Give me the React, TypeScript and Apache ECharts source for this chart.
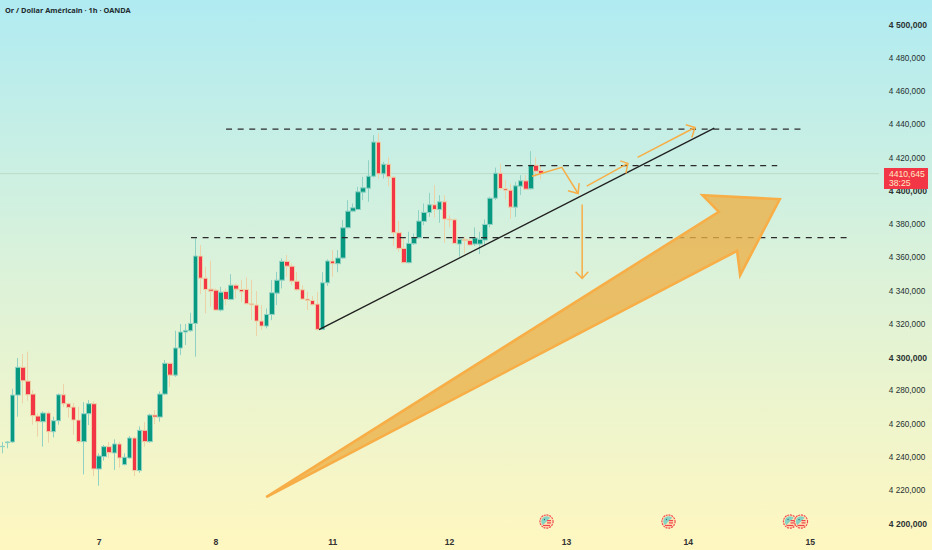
import React, { useEffect, useRef } from "react";
import * as echarts from "echarts";

const titleText = "Or / Dollar Américain · 1h · OANDA";
const lastPriceText = "4410,645";
const countdownText = "38:25";
const lastPrice = 4410.645;

const opens = [4246.5,4248.9,4249.3,4277.5,4294.2,4285.9,4278.1,4264.9,4261.5,4266.7,4255.5,4262.1,4277.7,4272.3,4270.3,4262.5,4249.5,4266.3,4272.3,4233.1,4240.5,4246.5,4242.7,4248.1,4235.7,4239.7,4251.7,4232.1,4256.3,4249.5,4265.5,4264.3,4278.1,4296.6,4289.5,4305.8,4315.4,4316.2,4320.6,4361.1,4347.8,4341.2,4340.6,4328.6,4339.8,4335.0,4343.6,4341.0,4341.0,4332.4,4331.6,4322.0,4319.0,4326.0,4338.8,4346.6,4357.9,4355.0,4346.0,4340.8,4335.2,4334.4,4332.2,4317.0,4345.0,4358.1,4356.5,4359.9,4378.1,4388.1,4389.1,4399.5,4401.9,4409.1,4429.6,4410.5,4416.3,4408.5,4375.1,4365.7,4357.1,4368.5,4372.1,4381.9,4387.3,4391.9,4389.1,4393.7,4383.3,4382.9,4368.3,4371.1,4370.5,4368.3,4368.3,4370.7,4380.1,4395.9,4410.9,4401.7,4400.7,4390.5,4403.1,4406.3,4401.5,4415.7,4412.5];
const closes = [4246.7,4249.3,4277.5,4294.2,4286.1,4277.7,4265.1,4261.5,4266.7,4255.5,4262.1,4277.7,4272.3,4270.1,4262.5,4249.5,4266.3,4272.3,4233.1,4240.9,4246.5,4242.9,4248.1,4239.7,4240.1,4251.7,4232.1,4256.3,4249.5,4265.5,4264.3,4278.1,4296.6,4289.5,4305.8,4315.4,4316.4,4320.6,4361.1,4347.8,4341.0,4340.0,4328.6,4339.4,4335.0,4343.6,4341.2,4339.6,4332.4,4331.8,4322.0,4319.0,4326.0,4339.0,4346.6,4357.9,4355.0,4346.0,4340.8,4335.2,4334.4,4331.8,4317.0,4345.0,4358.1,4356.5,4359.9,4378.1,4388.1,4390.1,4399.7,4402.1,4409.1,4429.6,4410.5,4416.3,4408.7,4375.1,4365.7,4357.1,4368.7,4372.1,4382.1,4387.3,4391.9,4389.1,4393.7,4383.3,4382.9,4368.7,4371.1,4370.5,4367.7,4371.9,4371.1,4380.1,4395.9,4410.9,4401.7,4400.7,4390.5,4403.3,4406.3,4401.3,4415.7,4412.1,4410.645];
const lows = [4242.5,4245.5,4248.9,4264.5,4272.5,4274.1,4259.7,4252.5,4246.5,4248.9,4252.1,4259.7,4270.5,4263.9,4253.7,4248.5,4229.8,4259.5,4228.8,4223.0,4238.1,4239.7,4232.5,4233.9,4235.3,4239.3,4228.8,4230.8,4246.5,4248.9,4260.1,4261.5,4277.5,4282.3,4288.5,4301.6,4307.6,4315.6,4300.6,4338.2,4326.6,4330.6,4328.2,4327.8,4331.6,4334.6,4335.6,4333.6,4332.2,4322.6,4313.0,4316.6,4317.6,4322.6,4331.6,4341.6,4348.6,4343.6,4340.2,4334.6,4328.6,4331.4,4316.2,4316.6,4343.2,4348.6,4351.4,4359.5,4377.7,4387.5,4388.7,4394.7,4393.7,4408.3,4407.7,4407.7,4403.1,4367.1,4363.7,4356.7,4356.7,4367.7,4371.7,4379.7,4384.7,4384.3,4381.1,4369.1,4378.3,4368.3,4360.7,4362.7,4367.1,4367.1,4362.3,4367.1,4378.3,4394.7,4400.7,4395.1,4383.7,4384.7,4397.7,4401.1,4401.1,4408.7,4407.3];
const highs = [4249.3,4249.7,4281.3,4299.8,4302.2,4303.6,4280.5,4266.5,4267.7,4267.7,4264.5,4278.5,4284.1,4272.9,4272.9,4270.5,4273.3,4274.5,4273.7,4242.5,4247.5,4249.3,4250.9,4249.5,4242.5,4252.9,4252.5,4258.7,4261.3,4266.3,4268.5,4279.7,4298.6,4297.2,4316.2,4320.2,4320.2,4327.0,4371.7,4367.7,4354.6,4358.3,4341.6,4342.6,4341.6,4350.2,4344.6,4346.6,4348.2,4346.6,4340.0,4331.6,4329.6,4346.6,4351.6,4359.7,4361.7,4356.7,4351.6,4343.6,4339.6,4337.0,4339.6,4351.4,4359.1,4364.7,4364.7,4382.7,4394.7,4392.7,4402.7,4408.7,4418.7,4433.8,4434.8,4417.7,4420.4,4409.1,4382.1,4371.7,4375.7,4374.7,4388.7,4392.7,4399.1,4403.7,4397.7,4397.7,4385.7,4383.7,4372.3,4372.7,4371.7,4378.3,4375.7,4383.1,4396.7,4414.3,4416.7,4406.7,4404.7,4405.7,4409.7,4409.7,4424.2,4420.4,4415.7];

const barCount = 173;
const dayNames = ["7", "8", "11", "12", "13", "14", "15"];
const dayBars = [19, 42, 65, 88, 111, 135, 159];

const yMin = 4200;
const yMax = 4500;
const yStep = 20;

// Annotations: [bar position, price]
const topLevel = [[44.0, 4437.4], [157.6, 4437.4]];
const midLevel = [[98.9, 4415.4], [152.5, 4415.4]];
const lowLevel = [[37.1, 4372.2], [166.4, 4372.2]];
const trendLine = [[62.3, 4316.9], [140.1, 4438.0]];
const priceLine = [[-0.5, lastPrice], [172.5, lastPrice]];

const arrowA = [[104.2, 4409.1], [110.1, 4414.4], [113.3, 4398.7]];
const arrowAHead = [[111.3, 4400.3], [113.3, 4398.7], [113.5, 4404.9]];
const arrowB = [[115.0, 4403.1], [123.1, 4416.8]];
const arrowBHead = [[121.6, 4418.3], [123.1, 4416.8], [122.7, 4410.8]];
const arrowC = [[125.0, 4420.4], [136.3, 4438.4]];
const arrowCHead = [[134.5, 4440.0], [136.3, 4438.4], [135.7, 4432.4]];
const arrowD = [[114.1, 4392.1], [114.1, 4347.7]];
const arrowDHead = [[112.8, 4351.6], [114.1, 4347.7], [115.3, 4351.6]];
const thinArrows = [arrowA, arrowAHead, arrowB, arrowBHead, arrowC, arrowCHead, arrowD, arrowDHead];

const bigArrow = [[51.9, 4216.2], [141.0, 4387.7], [137.8, 4397.7], [153.0, 4395.3], [145.2, 4349.6], [144.6, 4364.2]];

const eventIconX = [546.5, 668.5, 790, 801];

function eventIcon(x: number) {
  return {
    type: "group",
    x,
    y: 521.5,
    z: 50,
    children: [
      { type: "circle", shape: { cx: 0, cy: 0, r: 6.6 }, style: { fill: "#fde3b0", stroke: "#f0444e", lineWidth: 1.1, lineDash: [2, 0.8] } },
      { type: "sector", shape: { cx: 0, cy: 0, r: 5.2, r0: 0, startAngle: Math.PI * 0.75, endAngle: Math.PI * 1.75 }, style: { fill: "#86d2c4" } },
      { type: "rect", shape: { x: 0.5, y: -1.5, width: 4, height: 1.2 }, style: { fill: "#f0444e" } },
      { type: "rect", shape: { x: 0.5, y: 0.8, width: 4, height: 1.2 }, style: { fill: "#f0444e" } },
      { type: "rect", shape: { x: -3.5, y: 3.4, width: 7, height: 1.2 }, style: { fill: "#f0444e" } },
      { type: "circle", shape: { cx: -2, cy: -2, r: 0.6 }, style: { fill: "#2a6f6a" } },
    ],
  };
}

function polySeries(points: number[][], shapeType: string, style: any, z: number) {
  return {
    type: "custom",
    xAxisIndex: 1,
    yAxisIndex: 0,
    z,
    silent: true,
    clip: false,
    encode: { x: 0, y: 1 },
    data: [points[0]],
    renderItem: (_p: any, api: any) => ({
      type: shapeType,
      shape: { points: points.map((pt) => api.coord(pt)) },
      style,
    }),
  };
}

function lineSeries(points: number[][], color: string, width: number, dash: any, z: number) {
  return {
    type: "line",
    xAxisIndex: 1,
    yAxisIndex: 0,
    z,
    silent: true,
    symbol: "none",
    data: points,
    lineStyle: { color, width, type: dash },
  };
}

export default function App() {
  const ref = useRef<HTMLDivElement>(null);
  useEffect(() => {
    document.body.style.margin = "0";
    const chart = echarts.init(ref.current!, undefined, { renderer: "svg" });
    const categories = Array.from({ length: barCount }, (_, i) => {
      const k = dayBars.indexOf(i);
      return k >= 0 ? dayNames[k] : `b${i}`;
    });
    const candleData = opens.map((o, i) => [o, closes[i], lows[i], highs[i]]);
    chart.setOption({
      animation: false,
      backgroundColor: new echarts.graphic.LinearGradient(0, 0, 0, 1, [
        { offset: 0, color: "#b0ebf2" },
        { offset: 0.5, color: "#dcf2d9" },
        { offset: 1, color: "#fff7c0" },
      ]),
      title: {
        text: titleText,
        left: 0,
        top: 6,
        padding: [0, 0, 0, 5],
        textStyle: { fontFamily: "Noto Sans", fontSize: 7.4, fontWeight: 700, color: "#1f2d30" },
      },
      grid: { left: 0, top: 25, width: barCount * 5.08, height: 499, containLabel: false, outerBoundsMode: "none" },
      xAxis: [
        {
          type: "category",
          data: categories,
          boundaryGap: true,
          axisLine: { show: false },
          axisTick: { show: false },
          splitLine: { show: false },
          axisLabel: {
            interval: (i: number) => dayBars.includes(i),
            formatter: (v: string) => v,
            margin: 13,
            fontFamily: "Liberation Sans",
            fontSize: 8.6,
            fontWeight: 700,
            color: "#333333",
          },
        },
        { type: "value", min: -0.5, max: barCount - 0.5, show: false, splitLine: { show: false } },
      ],
      yAxis: {
        type: "value",
        position: "right",
        min: yMin,
        max: yMax,
        interval: yStep,
        axisLine: { show: false },
        axisTick: { show: false },
        splitLine: { show: false },
        axisLabel: {
          margin: 10,
          formatter: (v: number) => {
            const t = `${Math.floor(v / 1000)} ${String(v % 1000).padStart(3, "0")},000`;
            return v % 100 === 0 ? `{b|${t}}` : `{n|${t}}`;
          },
          rich: {
            b: { fontFamily: "Liberation Sans", fontSize: 8.6, fontWeight: 700, color: "#2c3333" },
            n: { fontFamily: "Liberation Sans", fontSize: 8.2, fontWeight: 400, color: "#263030" },
          },
        },
      },
      series: [
        lineSeries(priceLine, "#bcdcc8", 1, "solid", 1),
        {
          type: "candlestick",
          xAxisIndex: 0,
          yAxisIndex: 0,
          z: 2,
          barWidth: 5,
          data: candleData,
          itemStyle: {
            color: "#089981",
            color0: "#f23645",
            borderColor: "#8fd2c4",
            borderColor0: "#ecd2a6",
            borderWidth: 1,
          },
        },
        lineSeries(topLevel, "#2b2b2b", 1.2, [6, 5.6], 3),
        lineSeries(midLevel, "#2b2b2b", 1.2, [6, 5.6], 3),
        lineSeries(lowLevel, "#2b2b2b", 1.2, [6, 5.6], 3),
        lineSeries(trendLine, "#1f1f1f", 1.3, "solid", 3),
        polySeries(bigArrow, "polygon", { fill: "rgba(236,176,70,0.78)", stroke: "#f7ae47", lineWidth: 2.6, lineJoin: "miter" }, 4),
        ...thinArrows.map((a) => polySeries(a, "polyline", { fill: "none", stroke: "#f7ae47", lineWidth: 1.5 }, 5)),
      ],
      graphic: [
        ...eventIconX.map(eventIcon),
        { type: "rect", z: 60, shape: { x: 884, y: 168, width: 44, height: 21 }, style: { fill: "#f23645" } },
        { type: "text", z: 61, x: 889, y: 173.5, style: { text: lastPriceText, fill: "#ffe9c4", font: "8.6px 'Liberation Sans'", textVerticalAlign: "middle" } },
        { type: "text", z: 61, x: 889, y: 183, style: { text: countdownText, fill: "#ffe9c4", font: "8.6px 'Liberation Sans'", textVerticalAlign: "middle" } },
      ],
    });
    return () => chart.dispose();
  }, []);
  return <div ref={ref} style={{ width: 932, height: 550, position: "absolute", left: 0, top: 0 }} />;
}
